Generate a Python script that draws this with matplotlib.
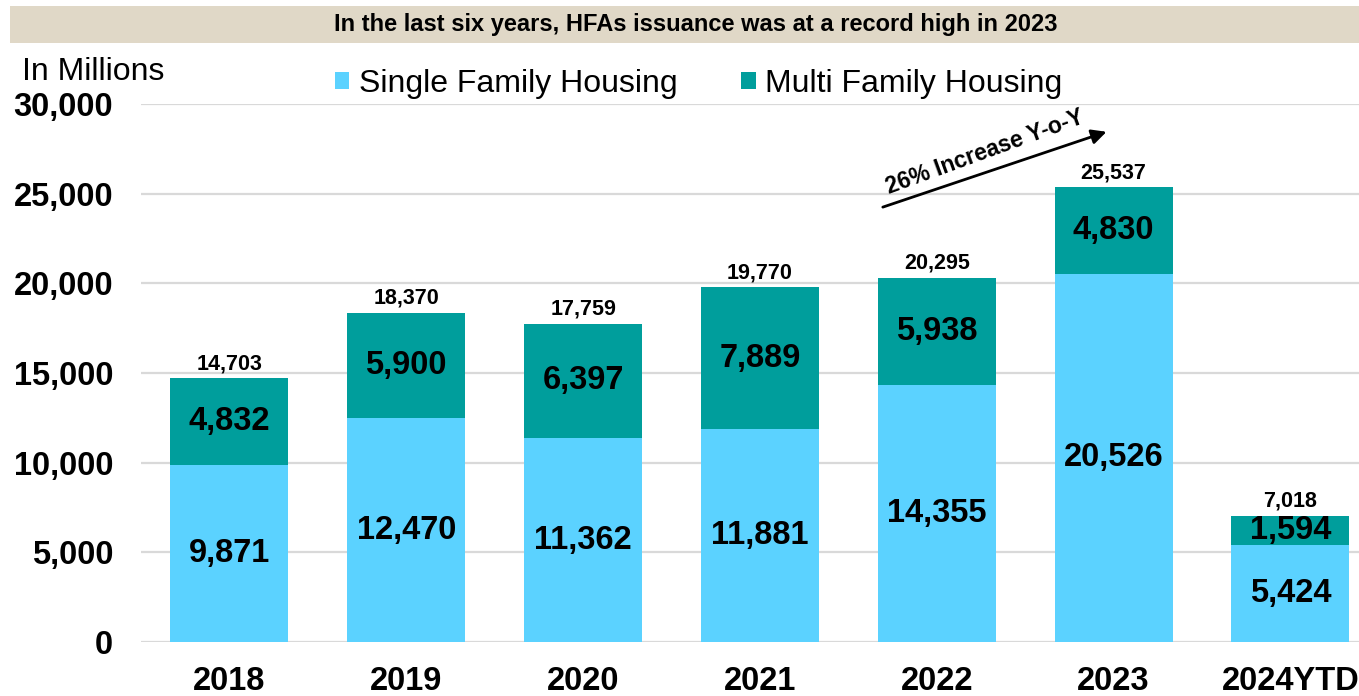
import numpy as np
import matplotlib
matplotlib.use("Agg")
import matplotlib.pyplot as plt
from matplotlib.patches import Rectangle

plt.rcParams['font.family'] = ['Liberation Sans', 'DejaVu Sans']

years = ['2018', '2019', '2020', '2021', '2022', '2023', '2024YTD']
single_family = [9871, 12470, 11362, 11881, 14355, 20526, 5424]
multi_family = [4832, 5900, 6397, 7889, 5938, 4830, 1594]
totals = [14703, 18370, 17759, 19770, 20295, 25537, 7018]

sf_color = '#5BD2FF'
mf_color = '#009E9C'

fig = plt.figure(figsize=(13.59, 6.96), dpi=100)
ax = fig.add_axes([141 / 1359, 1 - 642 / 696, 1 - 141 / 1359, (642 - 104) / 696])

# title band
fig.patches.append(Rectangle((10 / 1359, 1 - 43 / 696), 1 - 10 / 1359, 37 / 696,
                             transform=fig.transFigure, facecolor='#E0D8C7',
                             edgecolor='none', zorder=0))
fig.text(0.512, 1 - 25 / 696, 'In the last six years, HFAs issuance was at a record high in 2023',
         ha='center', va='center', fontsize=17, fontweight='bold')
fig.text(22 / 1359, 1 - 72 / 696, 'In Millions', ha='left', va='center', fontsize=23)

x = np.arange(len(years))
w = 0.667
b1 = ax.bar(x, single_family, w, color=sf_color, label='Single Family Housing', zorder=3)
b2 = ax.bar(x, multi_family, w, bottom=single_family, color=mf_color,
            label='Multi Family Housing', zorder=3)

for i in range(len(years)):
    ax.text(x[i], single_family[i] / 2, f'{single_family[i]:,}', ha='center', va='center',
            fontsize=23.5, fontweight='bold', zorder=4)
    ax.text(x[i], single_family[i] + multi_family[i] / 2, f'{multi_family[i]:,}',
            ha='center', va='center', fontsize=23.5, fontweight='bold', zorder=4)
    ax.annotate(f'{totals[i]:,}', (x[i], single_family[i] + multi_family[i]),
                xytext=(0, 3), textcoords='offset points', ha='center', va='bottom',
                fontsize=15.5, fontweight='bold')

ax.set_ylim(0, 30000)
ax.set_xlim(-0.5, (1359 - 229) / 176.9)
ax.set_yticks(np.arange(0, 30001, 5000))
ax.set_yticklabels([f'{v:,}' for v in range(0, 30001, 5000)])
ax.set_xticks(x)
ax.set_xticklabels(years)
ax.tick_params(axis='y', length=0, pad=20, labelsize=23.5)
ax.tick_params(axis='x', length=0, pad=17, labelsize=23.5)
for lab in ax.get_xticklabels() + ax.get_yticklabels():
    lab.set_fontweight('bold')
ax.grid(axis='y', color='#D9D9D9', linewidth=1.6, zorder=0)
ax.set_axisbelow(True)
for s in ax.spines.values():
    s.set_visible(False)

# growth arrow
ax.annotate('', xy=(4.975, 28500), xytext=(3.68, 24200),
            arrowprops=dict(arrowstyle='-|>', color='black', lw=2, mutation_scale=22))
ax.text(4.27, 27300, '26% Increase Y-o-Y', rotation=20, rotation_mode='anchor',
        ha='center', va='center', fontsize=16.5, fontweight='bold')

fig.legend(handles=[b1, b2], loc='center', bbox_to_anchor=(0.514, 1 - 84 / 696), ncol=2,
           frameon=False, fontsize=23, handlelength=0.45, handleheight=0.45,
           handletextpad=0.3, columnspacing=2.0)

fig.savefig('out.png', dpi=100)
